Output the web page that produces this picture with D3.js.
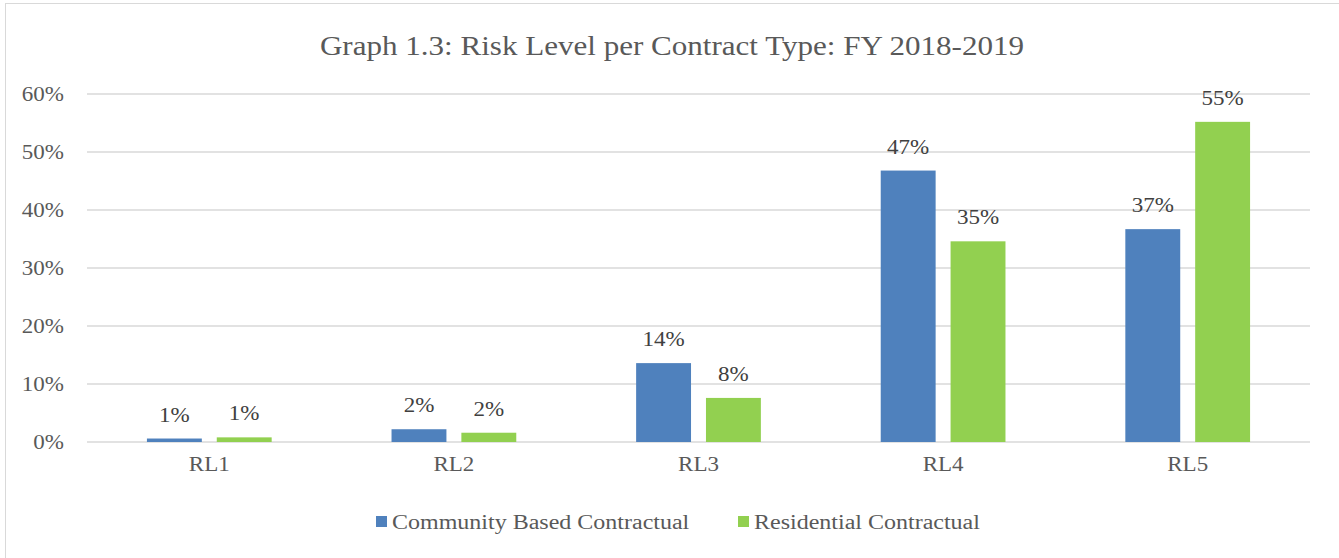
<!DOCTYPE html>
<html lang="en">
<head>
<meta charset="utf-8">
<title>Risk Level per Contract Type</title>
<script src="https://cdnjs.cloudflare.com/ajax/libs/d3/7.8.5/d3.min.js"></script>
<style>
  body { margin: 0; background: #fff; }
  text { font-family: "Liberation Serif", "Times New Roman", serif; fill: #595959; }
</style>
</head>
<body>
<script>
var categories = ["RL1", "RL2", "RL3", "RL4", "RL5"];
var seriesNames = ["Community Based Contractual", "Residential Contractual"];
var community = [0.6, 2.2, 13.6, 46.8, 36.7];
var residential = [0.8, 1.6, 7.6, 34.6, 55.2];
var yTicks = [0, 10, 20, 30, 40, 50, 60];
var colors = ["#4F81BD", "#92D050"];

var w = 1339, h = 558;
var plotLeft = 87, plotRight = 1310, plotTop = 94, plotBottom = 442;
var stretch = 1.15; // reference text is a bit wider than plain Times

var svg = d3.select("body").append("svg")
    .attr("width", w)
    .attr("height", h);

// outer chart border
svg.append("rect")
    .attr("x", 5.5).attr("y", 3.5)
    .attr("width", w).attr("height", h)
    .attr("fill", "none")
    .attr("stroke", "#d9d9d9");

svg.append("text")
    .attr("x", 672).attr("y", 55)
    .attr("text-anchor", "middle")
    .style("font-size", "27px")
    .text("Graph 1.3: Risk Level per Contract Type: FY 2018-2019");

var x0 = d3.scaleBand().domain(categories).range([plotLeft, plotRight]).padding(0);
var bw = x0.bandwidth();
var x1 = d3.scaleBand().domain(seriesNames)
    .range([bw * 0.245, bw * 0.755])
    .paddingInner(0.214);
var y = d3.scaleLinear().domain([0, 60]).range([plotBottom, plotTop]);

// gridlines
svg.append("g").selectAll("line")
    .data(yTicks)
    .enter().append("line")
    .attr("x1", plotLeft).attr("x2", plotRight)
    .attr("y1", function(d){ return y(d); })
    .attr("y2", function(d){ return y(d); })
    .attr("stroke", "#d9d9d9")
    .attr("stroke-width", 1.5);

var yAxis = d3.axisLeft(y).tickValues(yTicks)
    .tickFormat(function(d){ return d + "%"; })
    .tickSize(0).tickPadding(23);
svg.append("g")
    .attr("transform", "translate(" + plotLeft + ",0)")
    .call(yAxis)
    .call(function(g){ g.select(".domain").remove(); })
    .selectAll("text")
    .style("font-size", "20px")
    .attr("fill", "#595959");

var xAxis = d3.axisBottom(x0).tickSize(0).tickPadding(15);
svg.append("g")
    .attr("transform", "translate(0," + plotBottom + ")")
    .call(xAxis)
    .call(function(g){ g.select(".domain").remove(); })
    .selectAll("text")
    .style("font-size", "20px")
    .attr("fill", "#595959");

svg.selectAll(".tick text").style("font-family", "'Liberation Serif', serif");

var data = categories.map(function(c, i){
    return { cat: c, vals: [
        { s: seriesNames[0], v: community[i], c: colors[0] },
        { s: seriesNames[1], v: residential[i], c: colors[1] }
    ]};
});

var groups = svg.selectAll("g.cat")
    .data(data)
    .enter().append("g")
    .attr("class", "cat")
    .attr("transform", function(d){ return "translate(" + x0(d.cat) + ",0)"; });

groups.selectAll("rect")
    .data(function(d){ return d.vals; })
    .enter().append("rect")
    .attr("x", function(d){ return x1(d.s); })
    .attr("y", function(d){ return y(d.v); })
    .attr("width", x1.bandwidth())
    .attr("height", function(d){ return plotBottom - y(d.v); })
    .attr("fill", function(d){ return d.c; });

groups.selectAll("text.lbl")
    .data(function(d){ return d.vals; })
    .enter().append("text")
    .attr("class", "lbl")
    .attr("x", function(d){ return x1(d.s) + x1.bandwidth() / 2; })
    .attr("y", function(d){ return y(d.v) - 17; })
    .attr("text-anchor", "middle")
    .style("font-size", "20px")
    .style("fill", "#404040")
    .text(function(d){ return Math.round(d.v) + "%"; });

// legend
var legend = svg.append("g");
var legX = [376, 738];
seriesNames.forEach(function(s, i){
    legend.append("rect")
        .attr("x", legX[i]).attr("y", 516)
        .attr("width", 11).attr("height", 11)
        .attr("fill", colors[i]);
    legend.append("text")
        .attr("class", "leg")
        .attr("x", legX[i] + 16).attr("y", 529)
        .style("font-size", "20px")
        .text(s);
});

// widen every label a little to match the reference glyphs
svg.selectAll("text").each(function(){
    var len = this.getComputedTextLength();
    var k = d3.select(this).classed("leg") ? 1.2 : stretch;
    d3.select(this)
        .attr("textLength", len * k)
        .attr("lengthAdjust", "spacingAndGlyphs");
});
</script>
</body>
</html>
